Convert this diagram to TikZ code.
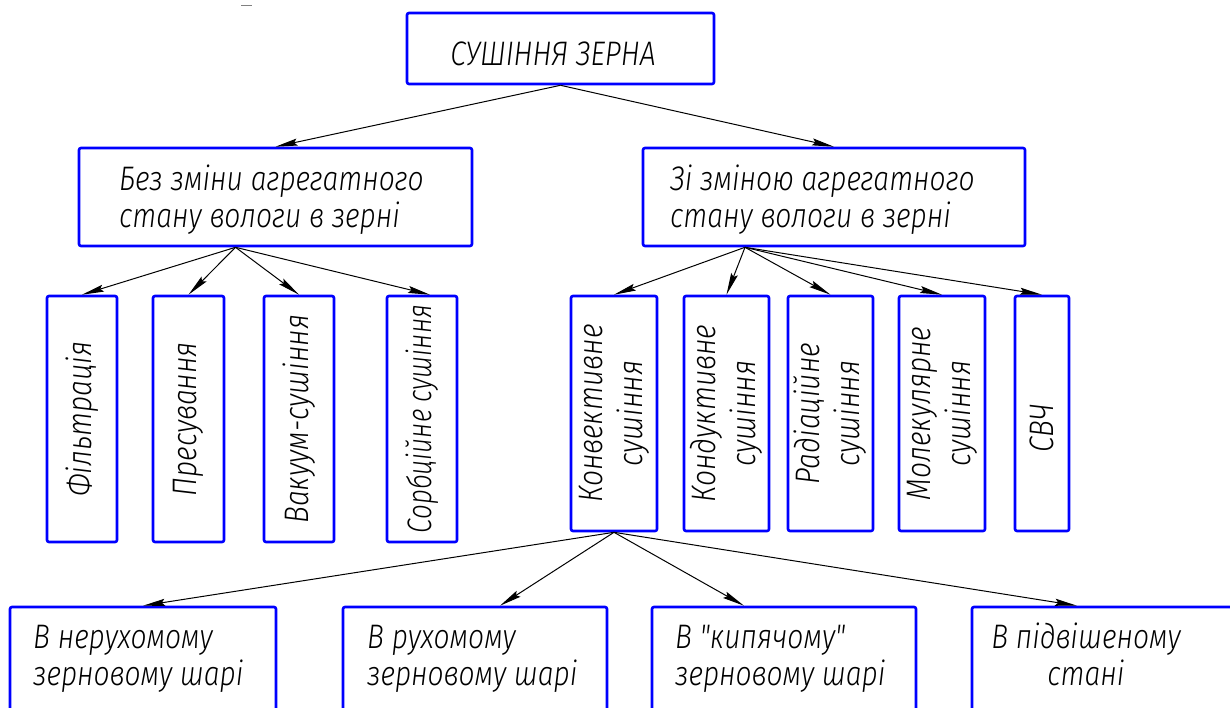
\documentclass[tikz,border=0pt]{standalone}
\usepackage{fontspec}
\newfontfamily\gost{Fira Sans Light Italic}[FakeStretch=0.83]
\usetikzlibrary{arrows.meta,calc}
\definecolor{boxblue}{RGB}{0,0,255}
\begin{document}
\begin{tikzpicture}[x=1pt,y=-1pt,
  box/.style={draw=boxblue, line width=2.6pt, rounded corners=2pt, inner sep=0pt},
  gfont/.style={font={\gost\fontsize{34}{37}\selectfont}, text=black},
  txt/.style={gfont, inner sep=0pt, align=left, anchor=north west},
  vtxt/.style={gfont, inner sep=0pt, align=center, rotate=90},
  arr/.style={draw=black, line width=1pt, -{Stealth[length=22pt,width=7pt,inset=3pt]}},
]
\clip (0,0) rectangle (1230,707);
\fill[white] (0,0) rectangle (1230,707);
\draw[gray, line width=1pt] (241,5) -- (252,5);

% top
\node[box, minimum width=307pt, minimum height=71pt] (top) at (560.5,48.5) {};
\node[gfont, inner sep=0pt, anchor=base] (topt) at (553,65) {СУШІННЯ ЗЕРНА};

% second row
\node[box, minimum width=393pt, minimum height=98pt] (L) at (275.5,197) {};
\node[box, minimum width=382pt, minimum height=98pt] (R) at (834,197) {};
\node[txt] (Lt) at (119,164) {\strut Без зміни агрегатного\\\strut стану вологи в зерні};
\node[txt] (Rt) at (670,164) {\strut Зі зміною агрегатного\\\strut стану вологи в зерні};

% third row left
\node[box, minimum width=70pt, minimum height=246pt] (f1) at (82,419) {};
\node[box, minimum width=71pt, minimum height=246pt] (f2) at (188.5,419) {};
\node[box, minimum width=70pt, minimum height=246pt] (f3) at (299,419) {};
\node[box, minimum width=70pt, minimum height=246pt] (f4) at (422,419) {};
\node[vtxt] (f1t) at (f1) {Фільтрація};
\node[vtxt] (f2t) at (f2) {Пресування};
\node[vtxt] (f3t) at (f3) {Вакуум-сушіння};
\node[vtxt] (f4t) at (f4) {\scalebox{0.92}[1]{Сорбційне сушіння}};

% third row right
\node[box, minimum width=86pt, minimum height=235pt] (k1) at (614,413.5) {};
\node[box, minimum width=85pt, minimum height=235pt] (k2) at (726.5,413.5) {};
\node[box, minimum width=85pt, minimum height=235pt] (k3) at (830.5,413.5) {};
\node[box, minimum width=86pt, minimum height=235pt] (k4) at (942,413.5) {};
\node[box, minimum width=54pt, minimum height=235pt] (k5) at (1042,413.5) {};
\node[vtxt, font={\gost\fontsize{34}{40}\selectfont}] (k1t) at (k1) {Конвективне\\сушіння};
\node[vtxt, font={\gost\fontsize{34}{40}\selectfont}] (k2t) at (k2) {Кондуктивне\\сушіння};
\node[vtxt, font={\gost\fontsize{34}{40}\selectfont}] (k3t) at (k3) {Радіаційне\\сушіння};
\node[vtxt, font={\gost\fontsize{34}{40}\selectfont}] (k4t) at (k4) {Молекулярне\\сушіння};
\node[vtxt] (k5t) at (1042,428) {СВЧ};

% bottom row
\node[box, minimum width=266pt, minimum height=123pt] (b1) at (143,668.5) {};
\node[box, minimum width=264pt, minimum height=123pt] (b2) at (475,668.5) {};
\node[box, minimum width=264pt, minimum height=123pt] (b3) at (784,668.5) {};
\node[box, minimum width=278pt, minimum height=123pt] (b4) at (1111,668.5) {};
\node[txt] (b1t) at (33,622) {\strut В нерухомому\\\strut зерновому шарі};
\node[txt] (b2t) at (367,622) {\strut В рухомому\\\strut зерновому шарі};
\node[txt] (b3t) at (675,622) {\strut В "кипячому"\\\strut зерновому шарі};
\node[txt, anchor=north, align=center] (b4t) at (1086,622) {\strut В підвішеному\\\strut стані};

% connectors
\draw[arr] (top.south) -- (L.north);
\draw[arr] (top.south) -- (R.north);
\coordinate (Ls) at ([xshift=-40pt]L.south);
\draw[arr] (Ls) -- (f1.north);
\draw[arr] (Ls) -- (f2.north);
\draw[arr] (Ls) -- (f3.north);
\draw[arr] (Ls) -- ([xshift=8pt]f4.north);
\coordinate (Rs) at ([xshift=-89pt]R.south);
\draw[arr] (Rs) -- (k1.north);
\draw[arr] (Rs) -- (k2.north);
\draw[arr] (Rs) -- (k3.north);
\draw[arr] (Rs) -- (k4.north);
\draw[arr] (Rs) -- (k5.north);
\draw[arr] (k1.south) -- (b1.north);
\draw[arr] (k1.south) -- ([xshift=25pt]b2.north);
\draw[arr] (k1.south) -- ([xshift=-40pt]b3.north);
\draw[arr] (k1.south) -- ([xshift=-34pt]b4.north);
\end{tikzpicture}
\end{document}
